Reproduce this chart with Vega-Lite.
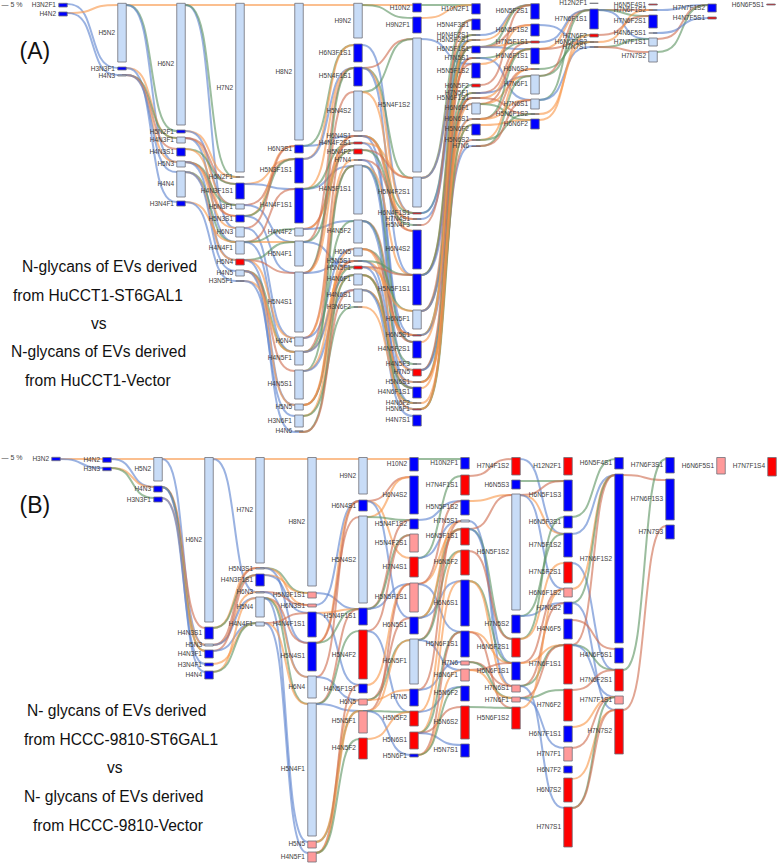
{"$schema":"https://vega.github.io/schema/vega-lite/v6.json","width":778,"height":866,"padding":0,"autosize":{"type":"fit","contains":"padding"},"background":"white","config":{"view":{"stroke":null}},
"datasets":{
"links":[
{"k":1,"c":"N","x":[63,87,98,122],"y":[4,4,68,68]},{"k":2,"c":"H","x":[63,87,98,122],"y":[13,13,5,5]},{"k":3,"c":"N","x":[63,87,98,122],"y":[13,13,75,75]},
{"k":4,"c":"H","x":[122,146,157,181],"y":[5,5,5,5]},{"k":5,"c":"F","x":[122,146,157,181],"y":[5,5,131,131]},{"k":6,"c":"N","x":[122,146,157,181],"y":[5,5,162,162]},{"k":7,"c":"H","x":[122,146,157,181],"y":[68,68,138,138]},{"k":8,"c":"N","x":[122,146,157,181],"y":[68,68,202,202]},{"k":9,"c":"F","x":[122,146,157,181],"y":[75,75,138,138]},{"k":10,"c":"S","x":[122,146,157,181],"y":[75,75,149,149]},{"k":11,"c":"H","x":[122,146,157,181],"y":[75,75,162,162]},{"k":12,"c":"N","x":[122,146,157,181],"y":[75,75,172,172]},
{"k":13,"c":"H","x":[181,205,216,240],"y":[5,5,5,5]},{"k":14,"c":"N","x":[181,205,216,240],"y":[5,5,228,228]},{"k":15,"c":"F","x":[181,205,216,240],"y":[5,5,177,177]},{"k":16,"c":"H","x":[181,205,216,240],"y":[131,131,177,177]},{"k":17,"c":"N","x":[181,205,216,240],"y":[131,131,205,205]},{"k":18,"c":"H","x":[181,205,216,240],"y":[138,138,205,205]},{"k":19,"c":"N","x":[181,205,216,240],"y":[138,138,242,242]},{"k":20,"c":"S","x":[181,205,216,240],"y":[138,138,184,184]},{"k":21,"c":"F","x":[181,205,216,240],"y":[149,149,184,184]},{"k":22,"c":"H","x":[181,205,216,240],"y":[149,149,216,216]},{"k":23,"c":"F","x":[181,205,216,240],"y":[162,162,205,205]},{"k":24,"c":"S","x":[181,205,216,240],"y":[162,162,216,216]},{"k":25,"c":"H","x":[181,205,216,240],"y":[162,162,228,228]},{"k":26,"c":"N","x":[181,205,216,240],"y":[162,162,260,260]},{"k":27,"c":"F","x":[181,205,216,240],"y":[172,172,242,242]},{"k":28,"c":"H","x":[181,205,216,240],"y":[172,172,260,260]},{"k":29,"c":"N","x":[181,205,216,240],"y":[172,172,271,271]},{"k":30,"c":"H","x":[181,205,216,240],"y":[202,202,242,242]},{"k":31,"c":"N","x":[181,205,216,240],"y":[202,202,281,281]},
{"k":32,"c":"H","x":[240,264,275,299],"y":[5,5,5,5]},{"k":33,"c":"H","x":[240,264,275,299],"y":[184,184,159,159]},{"k":34,"c":"N","x":[240,264,275,299],"y":[184,184,189,189]},{"k":35,"c":"S","x":[240,264,275,299],"y":[205,205,159,159]},{"k":36,"c":"N","x":[240,264,275,299],"y":[205,205,242,242]},{"k":37,"c":"H","x":[240,264,275,299],"y":[216,216,146,146]},{"k":38,"c":"F","x":[240,264,275,299],"y":[216,216,159,159]},{"k":39,"c":"N","x":[240,264,275,299],"y":[216,216,273,273]},{"k":40,"c":"S","x":[240,264,275,299],"y":[228,228,146,146]},{"k":41,"c":"N","x":[240,264,275,299],"y":[228,228,338,338]},{"k":42,"c":"H","x":[240,264,275,299],"y":[242,242,242,242]},{"k":43,"c":"S","x":[240,264,275,299],"y":[242,242,189,189]},{"k":44,"c":"F","x":[240,264,275,299],"y":[242,242,229,229]},{"k":45,"c":"N","x":[240,264,275,299],"y":[242,242,352,352]},{"k":46,"c":"F","x":[240,264,275,299],"y":[260,260,242,242]},{"k":47,"c":"S","x":[240,264,275,299],"y":[260,260,273,273]},{"k":48,"c":"H","x":[240,264,275,299],"y":[260,260,338,338]},{"k":49,"c":"N","x":[240,264,275,299],"y":[260,260,405,405]},{"k":50,"c":"F","x":[240,264,275,299],"y":[271,271,352,352]},{"k":51,"c":"S","x":[240,264,275,299],"y":[271,271,371,371]},{"k":52,"c":"H","x":[240,264,275,299],"y":[271,271,405,405]},{"k":53,"c":"N","x":[240,264,275,299],"y":[271,271,432,432]},{"k":54,"c":"H","x":[240,264,275,299],"y":[281,281,352,352]},{"k":55,"c":"N","x":[240,264,275,299],"y":[281,281,416,416]},
{"k":56,"c":"H","x":[299,323,334,358],"y":[5,5,5,5]},{"k":57,"c":"F","x":[299,323,334,358],"y":[146,146,45,45]},{"k":58,"c":"N","x":[299,323,334,358],"y":[146,146,136,136]},{"k":59,"c":"H","x":[299,323,334,358],"y":[159,159,45,45]},{"k":60,"c":"N","x":[299,323,334,358],"y":[159,159,68,68]},{"k":61,"c":"H","x":[299,323,334,358],"y":[189,189,68,68]},{"k":62,"c":"N","x":[299,323,334,358],"y":[189,189,166,166]},{"k":63,"c":"F","x":[299,323,334,358],"y":[189,189,143,143]},{"k":64,"c":"S","x":[299,323,334,358],"y":[229,229,143,143]},{"k":65,"c":"H","x":[299,323,334,358],"y":[229,229,150,150]},{"k":66,"c":"N","x":[299,323,334,358],"y":[229,229,221,221]},{"k":67,"c":"S","x":[299,323,334,358],"y":[242,242,68,68]},{"k":68,"c":"F","x":[299,323,334,358],"y":[242,242,150,150]},{"k":69,"c":"N","x":[299,323,334,358],"y":[242,242,267,267]},{"k":70,"c":"F","x":[299,323,334,358],"y":[273,273,68,68]},{"k":71,"c":"S","x":[299,323,334,358],"y":[273,273,92,92]},{"k":72,"c":"H","x":[299,323,334,358],"y":[273,273,136,136]},{"k":73,"c":"N","x":[299,323,334,358],"y":[273,273,261,261]},{"k":74,"c":"S","x":[299,323,334,358],"y":[338,338,136,136]},{"k":75,"c":"H","x":[299,323,334,358],"y":[338,338,160,160]},{"k":76,"c":"N","x":[299,323,334,358],"y":[338,338,249,249]},{"k":77,"c":"S","x":[299,323,334,358],"y":[352,352,166,166]},{"k":78,"c":"F","x":[299,323,334,358],"y":[352,352,221,221]},{"k":79,"c":"H","x":[299,323,334,358],"y":[352,352,267,267]},{"k":80,"c":"N","x":[299,323,334,358],"y":[352,352,275,275]},{"k":81,"c":"F","x":[299,323,334,358],"y":[371,371,166,166]},{"k":82,"c":"H","x":[299,323,334,358],"y":[371,371,261,261]},{"k":83,"c":"N","x":[299,323,334,358],"y":[371,371,290,290]},{"k":84,"c":"F","x":[299,323,334,358],"y":[405,405,267,267]},{"k":85,"c":"S","x":[299,323,334,358],"y":[405,405,261,261]},{"k":86,"c":"H","x":[299,323,334,358],"y":[405,405,249,249]},{"k":87,"c":"H","x":[299,323,334,358],"y":[416,416,275,275]},{"k":88,"c":"F","x":[299,323,334,358],"y":[416,416,307,307]},{"k":89,"c":"F","x":[299,323,334,358],"y":[432,432,275,275]},{"k":90,"c":"S","x":[299,323,334,358],"y":[432,432,290,290]},
{"k":91,"c":"H","x":[358,382,393,417],"y":[5,5,5,5]},{"k":92,"c":"F","x":[358,382,393,417],"y":[5,5,18,18]},{"k":93,"c":"N","x":[358,382,393,417],"y":[45,45,213,213]},{"k":94,"c":"S","x":[358,382,393,417],"y":[68,68,39,39]},{"k":95,"c":"F","x":[358,382,393,417],"y":[68,68,178,178]},{"k":96,"c":"H","x":[358,382,393,417],"y":[68,68,213,213]},{"k":97,"c":"N","x":[358,382,393,417],"y":[68,68,275,275]},{"k":98,"c":"F","x":[358,382,393,417],"y":[92,92,39,39]},{"k":99,"c":"H","x":[358,382,393,417],"y":[92,92,231,231]},{"k":100,"c":"F","x":[358,382,393,417],"y":[136,136,213,213]},{"k":101,"c":"S","x":[358,382,393,417],"y":[136,136,231,231]},{"k":102,"c":"H","x":[358,382,393,417],"y":[136,136,219,219]},{"k":103,"c":"N","x":[358,382,393,417],"y":[136,136,335,335]},{"k":104,"c":"H","x":[358,382,393,417],"y":[143,143,178,178]},{"k":105,"c":"N","x":[358,382,393,417],"y":[143,143,342,342]},{"k":106,"c":"S","x":[358,382,393,417],"y":[150,150,178,178]},{"k":107,"c":"F","x":[358,382,393,417],"y":[150,150,225,225]},{"k":108,"c":"S","x":[358,382,393,417],"y":[160,160,219,219]},{"k":109,"c":"N","x":[358,382,393,417],"y":[160,160,370,370]},{"k":110,"c":"H","x":[358,382,393,417],"y":[166,166,275,275]},{"k":111,"c":"F","x":[358,382,393,417],"y":[166,166,342,342]},{"k":112,"c":"N","x":[358,382,393,417],"y":[166,166,388,388]},{"k":113,"c":"S","x":[358,382,393,417],"y":[221,221,342,342]},{"k":114,"c":"F","x":[358,382,393,417],"y":[221,221,364,364]},{"k":115,"c":"N","x":[358,382,393,417],"y":[221,221,403,403]},{"k":116,"c":"F","x":[358,382,393,417],"y":[249,249,311,311]},{"k":117,"c":"S","x":[358,382,393,417],"y":[249,249,335,335]},{"k":118,"c":"H","x":[358,382,393,417],"y":[249,249,370,370]},{"k":119,"c":"H","x":[358,382,393,417],"y":[261,261,335,335]},{"k":120,"c":"F","x":[358,382,393,417],"y":[261,261,275,275]},{"k":121,"c":"N","x":[358,382,393,417],"y":[261,261,382,382]},{"k":122,"c":"S","x":[358,382,393,417],"y":[267,267,275,275]},{"k":123,"c":"H","x":[358,382,393,417],"y":[267,267,311,311]},{"k":124,"c":"N","x":[358,382,393,417],"y":[267,267,409,409]},{"k":125,"c":"S","x":[358,382,393,417],"y":[275,275,388,388]},{"k":126,"c":"H","x":[358,382,393,417],"y":[275,275,409,409]},{"k":127,"c":"F","x":[358,382,393,417],"y":[275,275,403,403]},{"k":128,"c":"F","x":[358,382,393,417],"y":[290,290,388,388]},{"k":129,"c":"H","x":[358,382,393,417],"y":[290,290,382,382]},{"k":130,"c":"N","x":[358,382,393,417],"y":[290,290,416,416]},{"k":131,"c":"H","x":[358,382,393,417],"y":[307,307,403,403]},
{"k":132,"c":"F","x":[417,441,452,476],"y":[5,5,5,5]},{"k":133,"c":"H","x":[417,441,452,476],"y":[18,18,5,5]},{"k":134,"c":"N","x":[417,441,452,476],"y":[39,39,64,64]},{"k":135,"c":"F","x":[417,441,452,476],"y":[178,178,20,20]},{"k":136,"c":"H","x":[417,441,452,476],"y":[178,178,35,35]},{"k":137,"c":"N","x":[417,441,452,476],"y":[178,178,40,40]},{"k":138,"c":"F","x":[417,441,452,476],"y":[213,213,35,35]},{"k":139,"c":"N","x":[417,441,452,476],"y":[213,213,47,47]},{"k":140,"c":"N","x":[417,441,452,476],"y":[219,219,58,58]},{"k":141,"c":"S","x":[417,441,452,476],"y":[225,225,20,20]},{"k":142,"c":"H","x":[417,441,452,476],"y":[275,275,47,47]},{"k":143,"c":"S","x":[417,441,452,476],"y":[275,275,64,64]},{"k":144,"c":"F","x":[417,441,452,476],"y":[275,275,40,40]},{"k":145,"c":"N","x":[417,441,452,476],"y":[275,275,98,98]},{"k":146,"c":"S","x":[417,441,452,476],"y":[311,311,47,47]},{"k":147,"c":"F","x":[417,441,452,476],"y":[311,311,85,85]},{"k":148,"c":"H","x":[417,441,452,476],"y":[311,311,93,93]},{"k":149,"c":"N","x":[417,441,452,476],"y":[311,311,104,104]},{"k":150,"c":"F","x":[417,441,452,476],"y":[335,335,47,47]},{"k":151,"c":"H","x":[417,441,452,476],"y":[335,335,58,58]},{"k":152,"c":"N","x":[417,441,452,476],"y":[335,335,119,119]},{"k":153,"c":"H","x":[417,441,452,476],"y":[342,342,40,40]},{"k":154,"c":"F","x":[417,441,452,476],"y":[370,370,93,93]},{"k":155,"c":"S","x":[417,441,452,476],"y":[370,370,58,58]},{"k":156,"c":"N","x":[417,441,452,476],"y":[370,370,146,146]},{"k":157,"c":"F","x":[417,441,452,476],"y":[382,382,98,98]},{"k":158,"c":"S","x":[417,441,452,476],"y":[382,382,140,140]},{"k":159,"c":"H","x":[417,441,452,476],"y":[382,382,119,119]},{"k":160,"c":"H","x":[417,441,452,476],"y":[388,388,98,98]},{"k":161,"c":"H","x":[417,441,452,476],"y":[403,403,125,125]},{"k":162,"c":"S","x":[417,441,452,476],"y":[409,409,98,98]},{"k":163,"c":"F","x":[417,441,452,476],"y":[409,409,125,125]},{"k":164,"c":"H","x":[417,441,452,476],"y":[409,409,104,104]},
{"k":165,"c":"N","x":[476,500,511,535],"y":[35,35,5,5]},{"k":166,"c":"H","x":[476,500,511,535],"y":[40,40,5,5]},{"k":167,"c":"F","x":[476,500,511,535],"y":[47,47,5,5]},{"k":168,"c":"S","x":[476,500,511,535],"y":[47,47,25,25]},{"k":169,"c":"H","x":[476,500,511,535],"y":[47,47,42,42]},{"k":170,"c":"N","x":[476,500,511,535],"y":[47,47,49,49]},{"k":171,"c":"F","x":[476,500,511,535],"y":[58,58,42,42]},{"k":172,"c":"N","x":[476,500,511,535],"y":[58,58,100,100]},{"k":173,"c":"H","x":[476,500,511,535],"y":[64,64,25,25]},{"k":174,"c":"S","x":[476,500,511,535],"y":[85,85,5,5]},{"k":175,"c":"S","x":[476,500,511,535],"y":[93,93,42,42]},{"k":176,"c":"N","x":[476,500,511,535],"y":[93,93,76,76]},{"k":177,"c":"H","x":[476,500,511,535],"y":[98,98,49,49]},{"k":178,"c":"S","x":[476,500,511,535],"y":[98,98,114,114]},{"k":179,"c":"S","x":[476,500,511,535],"y":[104,104,49,49]},{"k":180,"c":"H","x":[476,500,511,535],"y":[104,104,76,76]},{"k":181,"c":"F","x":[476,500,511,535],"y":[104,104,120,120]},{"k":182,"c":"F","x":[476,500,511,535],"y":[119,119,49,49]},{"k":183,"c":"S","x":[476,500,511,535],"y":[119,119,69,69]},{"k":184,"c":"H","x":[476,500,511,535],"y":[119,119,100,100]},{"k":185,"c":"H","x":[476,500,511,535],"y":[125,125,120,120]},{"k":186,"c":"H","x":[476,500,511,535],"y":[140,140,69,69]},{"k":187,"c":"F","x":[476,500,511,535],"y":[140,140,114,114]},{"k":188,"c":"F","x":[476,500,511,535],"y":[146,146,76,76]},{"k":189,"c":"S","x":[476,500,511,535],"y":[146,146,100,100]},
{"k":190,"c":"H","x":[535,559,570,594],"y":[49,49,10,10]},{"k":191,"c":"S","x":[535,559,570,594],"y":[49,49,42,42]},{"k":192,"c":"N","x":[535,559,570,594],"y":[42,42,10,10]},{"k":193,"c":"N","x":[535,559,570,594],"y":[25,25,42,42]},{"k":194,"c":"F","x":[535,559,570,594],"y":[69,69,42,42]},{"k":195,"c":"S","x":[535,559,570,594],"y":[76,76,10,10]},{"k":196,"c":"F","x":[535,559,570,594],"y":[76,76,35,35]},{"k":197,"c":"F","x":[535,559,570,594],"y":[100,100,10,10]},{"k":198,"c":"N","x":[535,559,570,594],"y":[100,100,47,47]},{"k":199,"c":"H","x":[535,559,570,594],"y":[120,120,35,35]},{"k":200,"c":"H","x":[535,559,570,594],"y":[114,114,42,42]},
{"k":201,"c":"S","x":[594,618,629,653],"y":[10,10,10,10]},{"k":202,"c":"F","x":[594,618,629,653],"y":[10,10,16,16]},{"k":203,"c":"N","x":[594,618,629,653],"y":[10,10,39,39]},{"k":204,"c":"S","x":[594,618,629,653],"y":[35,35,16,16]},{"k":205,"c":"H","x":[594,618,629,653],"y":[42,42,10,10]},{"k":206,"c":"F","x":[594,618,629,653],"y":[47,47,39,39]},{"k":207,"c":"S","x":[594,618,629,653],"y":[47,47,52,52]},
{"k":208,"c":"N","x":[653,677,688,712],"y":[10,10,5,5]},{"k":209,"c":"S","x":[653,677,688,712],"y":[39,39,5,5]},{"k":210,"c":"F","x":[653,677,688,712],"y":[52,52,5,5]},{"k":211,"c":"N","x":[653,677,688,712],"y":[33,33,18,18]},

{"k":301,"c":"H","x":[56,76,87,107],"y":[459,459,459,459]},{"k":302,"c":"N","x":[56,76,87,107],"y":[459,459,468,468]},
{"k":303,"c":"H","x":[107,127,138,158],"y":[459,459,459,459]},{"k":304,"c":"N","x":[107,127,138,158],"y":[459,459,487,487]},{"k":305,"c":"H","x":[107,127,138,158],"y":[468,468,487,487]},{"k":306,"c":"F","x":[107,127,138,158],"y":[468,468,498,498]},
{"k":307,"c":"H","x":[158,178,189,209],"y":[459,459,459,459]},{"k":308,"c":"N","x":[158,178,189,209],"y":[459,459,645,645]},{"k":309,"c":"S","x":[158,178,189,209],"y":[487,487,628,628]},{"k":310,"c":"H","x":[158,178,189,209],"y":[487,487,645,645]},{"k":311,"c":"F","x":[158,178,189,209],"y":[487,487,651,651]},{"k":312,"c":"N","x":[158,178,189,209],"y":[487,487,672,672]},{"k":313,"c":"H","x":[158,178,189,209],"y":[498,498,651,651]},{"k":314,"c":"N","x":[158,178,189,209],"y":[498,498,664,664]},
{"k":315,"c":"H","x":[209,229,240,260],"y":[459,459,459,459]},{"k":316,"c":"N","x":[209,229,240,260],"y":[459,459,592,592]},{"k":317,"c":"H","x":[209,229,240,260],"y":[628,628,568,568]},{"k":318,"c":"F","x":[209,229,240,260],"y":[628,628,575,575]},{"k":319,"c":"S","x":[209,229,240,260],"y":[645,645,568,568]},{"k":320,"c":"H","x":[209,229,240,260],"y":[645,645,592,592]},{"k":321,"c":"N","x":[209,229,240,260],"y":[645,645,598,598]},{"k":322,"c":"S","x":[209,229,240,260],"y":[651,651,575,575]},{"k":323,"c":"N","x":[209,229,240,260],"y":[651,651,623,623]},{"k":324,"c":"H","x":[209,229,240,260],"y":[664,664,623,623]},{"k":325,"c":"H","x":[209,229,240,260],"y":[672,672,598,598]},{"k":326,"c":"F","x":[209,229,240,260],"y":[672,672,623,623]},
{"k":327,"c":"H","x":[260,281,291,312],"y":[459,459,459,459]},{"k":328,"c":"F","x":[260,281,291,312],"y":[568,568,593,593]},{"k":329,"c":"H","x":[260,281,291,312],"y":[568,568,605,605]},{"k":330,"c":"N","x":[260,281,291,312],"y":[568,568,643,643]},{"k":331,"c":"H","x":[260,281,291,312],"y":[575,575,593,593]},{"k":332,"c":"N","x":[260,281,291,312],"y":[575,575,613,613]},{"k":333,"c":"S","x":[260,281,291,312],"y":[592,592,605,605]},{"k":334,"c":"N","x":[260,281,291,312],"y":[592,592,677,677]},{"k":335,"c":"S","x":[260,281,291,312],"y":[598,598,643,643]},{"k":336,"c":"H","x":[260,281,291,312],"y":[598,598,677,677]},{"k":337,"c":"F","x":[260,281,291,312],"y":[598,598,704,704]},{"k":338,"c":"N","x":[260,281,291,312],"y":[598,598,842,842]},{"k":339,"c":"S","x":[260,281,291,312],"y":[623,623,613,613]},{"k":340,"c":"H","x":[260,281,291,312],"y":[623,623,704,704]},{"k":341,"c":"N","x":[260,281,291,312],"y":[623,623,853,853]},
{"k":342,"c":"H","x":[312,332,343,363],"y":[459,459,459,459]},{"k":343,"c":"N","x":[312,332,343,363],"y":[593,593,609,609]},{"k":344,"c":"N","x":[312,332,343,363],"y":[605,605,501,501]},{"k":345,"c":"H","x":[312,332,343,363],"y":[613,613,609,609]},{"k":346,"c":"N","x":[312,332,343,363],"y":[613,613,685,685]},{"k":347,"c":"H","x":[312,332,343,363],"y":[643,643,501,501]},{"k":348,"c":"S","x":[312,332,343,363],"y":[643,643,517,517]},{"k":349,"c":"F","x":[312,332,343,363],"y":[643,643,609,609]},{"k":350,"c":"S","x":[312,332,343,363],"y":[677,677,501,501]},{"k":351,"c":"N","x":[312,332,343,363],"y":[677,677,700,700]},{"k":352,"c":"S","x":[312,332,343,363],"y":[704,704,609,609]},{"k":353,"c":"F","x":[312,332,343,363],"y":[704,704,631,631]},{"k":354,"c":"N","x":[312,332,343,363],"y":[704,704,711,711]},{"k":355,"c":"F","x":[312,332,343,363],"y":[842,842,711,711]},{"k":356,"c":"H","x":[312,332,343,363],"y":[842,842,700,700]},{"k":357,"c":"S","x":[312,332,343,363],"y":[853,853,685,685]},{"k":358,"c":"H","x":[312,332,343,363],"y":[853,853,711,711]},{"k":359,"c":"F","x":[312,332,343,363],"y":[853,853,739,739]},
{"k":360,"c":"H","x":[363,383,394,414],"y":[459,459,459,459]},{"k":361,"c":"S","x":[363,383,394,414],"y":[501,501,477,477]},{"k":362,"c":"H","x":[363,383,394,414],"y":[501,501,558,558]},{"k":363,"c":"N","x":[363,383,394,414],"y":[501,501,618,618]},{"k":364,"c":"H","x":[363,383,394,414],"y":[517,517,477,477]},{"k":365,"c":"F","x":[363,383,394,414],"y":[517,517,520,520]},{"k":366,"c":"S","x":[363,383,394,414],"y":[609,609,520,520]},{"k":367,"c":"F","x":[363,383,394,414],"y":[609,609,535,535]},{"k":368,"c":"N","x":[363,383,394,414],"y":[609,609,584,584]},{"k":369,"c":"S","x":[363,383,394,414],"y":[631,631,535,535]},{"k":370,"c":"N","x":[363,383,394,414],"y":[631,631,712,712]},{"k":371,"c":"H","x":[363,383,394,414],"y":[685,685,584,584]},{"k":372,"c":"S","x":[363,383,394,414],"y":[700,700,618,618]},{"k":373,"c":"F","x":[363,383,394,414],"y":[700,700,640,640]},{"k":374,"c":"H","x":[363,383,394,414],"y":[700,700,690,690]},{"k":375,"c":"S","x":[363,383,394,414],"y":[711,711,584,584]},{"k":376,"c":"H","x":[363,383,394,414],"y":[711,711,640,640]},{"k":377,"c":"F","x":[363,383,394,414],"y":[711,711,712,712]},{"k":378,"c":"N","x":[363,383,394,414],"y":[711,711,755,755]},{"k":379,"c":"H","x":[363,383,394,414],"y":[739,739,712,712]},
{"k":380,"c":"F","x":[414,434,445,465],"y":[459,459,459,459]},{"k":381,"c":"N","x":[414,434,445,465],"y":[520,520,501,501]},{"k":382,"c":"F","x":[414,434,445,465],"y":[558,558,476,476]},{"k":383,"c":"N","x":[414,434,445,465],"y":[558,558,521,521]},{"k":384,"c":"H","x":[414,434,445,465],"y":[584,584,529,529]},{"k":385,"c":"S","x":[414,434,445,465],"y":[584,584,501,501]},{"k":386,"c":"N","x":[414,434,445,465],"y":[584,584,632,632]},{"k":387,"c":"F","x":[414,434,445,465],"y":[618,618,529,529]},{"k":388,"c":"H","x":[414,434,445,465],"y":[618,618,521,521]},{"k":389,"c":"N","x":[414,434,445,465],"y":[618,618,581,581]},{"k":390,"c":"S","x":[414,434,445,465],"y":[640,640,529,529]},{"k":391,"c":"F","x":[414,434,445,465],"y":[640,640,551,551]},{"k":392,"c":"N","x":[414,434,445,465],"y":[640,640,670,670]},{"k":393,"c":"S","x":[414,434,445,465],"y":[690,690,521,521]},{"k":394,"c":"N","x":[414,434,445,465],"y":[690,690,662,662]},{"k":395,"c":"H","x":[414,434,445,465],"y":[712,712,551,551]},{"k":396,"c":"N","x":[414,434,445,465],"y":[712,712,687,687]},{"k":397,"c":"H","x":[414,434,445,465],"y":[733,733,581,581]},{"k":398,"c":"F","x":[414,434,445,465],"y":[733,733,632,632]},{"k":399,"c":"S","x":[414,434,445,465],"y":[733,733,707,707]},{"k":400,"c":"N","x":[414,434,445,465],"y":[733,733,745,745]},{"k":401,"c":"S","x":[414,434,445,465],"y":[755,755,632,632]},{"k":402,"c":"H","x":[414,434,445,465],"y":[755,755,670,670]},{"k":403,"c":"F","x":[414,434,445,465],"y":[755,755,687,687]},
{"k":404,"c":"S","x":[465,485,496,516],"y":[476,476,459,459]},{"k":405,"c":"H","x":[465,485,496,516],"y":[501,501,495,495]},{"k":406,"c":"N","x":[465,485,496,516],"y":[521,521,686,686]},{"k":407,"c":"S","x":[465,485,496,516],"y":[529,529,495,495]},{"k":408,"c":"F","x":[465,485,496,516],"y":[529,529,639,639]},{"k":409,"c":"N","x":[465,485,496,516],"y":[529,529,663,663]},{"k":410,"c":"S","x":[465,485,496,516],"y":[551,551,639,639]},{"k":411,"c":"F","x":[465,485,496,516],"y":[581,581,663,663]},{"k":412,"c":"H","x":[465,485,496,516],"y":[581,581,686,686]},{"k":413,"c":"H","x":[465,485,496,516],"y":[632,632,663,663]},{"k":414,"c":"S","x":[465,485,496,516],"y":[632,632,708,708]},{"k":415,"c":"S","x":[465,485,496,516],"y":[662,662,686,686]},{"k":416,"c":"F","x":[465,485,496,516],"y":[662,662,698,698]},{"k":417,"c":"S","x":[465,485,496,516],"y":[670,670,663,663]},{"k":418,"c":"H","x":[465,485,496,516],"y":[670,670,698,698]},{"k":419,"c":"F","x":[465,485,496,516],"y":[707,707,708,708]},
{"k":420,"c":"N","x":[516,537,547,568],"y":[459,459,534,534]},{"k":421,"c":"F","x":[516,537,547,568],"y":[481,481,481,481]},{"k":422,"c":"S","x":[516,537,547,568],"y":[495,495,481,481]},{"k":423,"c":"H","x":[516,537,547,568],"y":[495,495,534,534]},{"k":424,"c":"N","x":[516,537,547,568],"y":[495,495,589,589]},{"k":425,"c":"F","x":[516,537,547,568],"y":[616,616,534,534]},{"k":426,"c":"N","x":[516,537,547,568],"y":[616,616,603,603]},{"k":427,"c":"F","x":[516,537,547,568],"y":[639,639,517,517]},{"k":428,"c":"H","x":[516,537,547,568],"y":[639,639,563,563]},{"k":429,"c":"S","x":[516,537,547,568],"y":[663,663,589,589]},{"k":430,"c":"H","x":[516,537,547,568],"y":[663,663,645,645]},{"k":431,"c":"S","x":[516,537,547,568],"y":[686,686,603,603]},{"k":432,"c":"F","x":[516,537,547,568],"y":[686,686,645,645]},{"k":433,"c":"N","x":[516,537,547,568],"y":[686,686,808,808]},{"k":434,"c":"S","x":[516,537,547,568],"y":[698,698,645,645]},{"k":435,"c":"F","x":[516,537,547,568],"y":[698,698,690,690]},{"k":436,"c":"N","x":[516,537,547,568],"y":[698,698,748,748]},{"k":437,"c":"H","x":[516,537,547,568],"y":[708,708,589,589]},
{"k":438,"c":"F","x":[568,588,599,619],"y":[517,517,459,459]},{"k":439,"c":"N","x":[568,588,599,619],"y":[534,534,475,475]},{"k":440,"c":"N","x":[568,588,599,619],"y":[563,563,670,670]},{"k":441,"c":"H","x":[568,588,599,619],"y":[589,589,475,475]},{"k":442,"c":"F","x":[568,588,599,619],"y":[603,603,475,475]},{"k":443,"c":"N","x":[568,588,599,619],"y":[603,603,710,710]},{"k":444,"c":"S","x":[568,588,599,619],"y":[620,620,649,649]},{"k":445,"c":"S","x":[568,588,599,619],"y":[645,645,475,475]},{"k":446,"c":"F","x":[568,588,599,619],"y":[645,645,670,670]},{"k":447,"c":"N","x":[568,588,599,619],"y":[645,645,697,697]},{"k":448,"c":"S","x":[568,588,599,619],"y":[690,690,670,670]},{"k":449,"c":"H","x":[568,588,599,619],"y":[727,727,697,697]},{"k":450,"c":"S","x":[568,588,599,619],"y":[748,748,697,697]},{"k":451,"c":"H","x":[568,588,599,619],"y":[779,779,710,710]},{"k":452,"c":"F","x":[568,588,599,619],"y":[808,808,697,697]},{"k":453,"c":"S","x":[568,588,599,619],"y":[808,808,710,710]},
{"k":454,"c":"S","x":[619,639,650,670],"y":[475,475,480,480]},{"k":455,"c":"F","x":[619,639,650,670],"y":[670,670,459,459]},{"k":456,"c":"S","x":[619,639,650,670],"y":[710,710,526,526]}
],
"nodes":[
{"n":"H3N2F1","x":63,"a":3.3,"b":7,"m":5,"t":"up"},{"n":"H4N2","x":63,"a":12,"b":16,"m":14,"t":"up"},
{"n":"H5N2","x":122,"a":3.3,"b":62,"m":33,"t":"ns"},{"n":"H3N3F1","x":122,"a":67,"b":70,"m":68.5,"t":"up"},{"n":"H4N3","x":122,"a":75,"b":76,"m":75.5,"t":"ns"},
{"n":"H6N2","x":181,"a":3.3,"b":125,"m":64,"t":"ns"},{"n":"H5N2F1","x":181,"a":130,"b":133,"m":131.5,"t":"up"},{"n":"H4N3F1","x":181,"a":137,"b":143,"m":140,"t":"ns"},{"n":"H4N3S1","x":181,"a":148,"b":156,"m":152,"t":"up"},{"n":"H5N3","x":181,"a":161,"b":167,"m":164,"t":"ns"},{"n":"H4N4","x":181,"a":171,"b":197,"m":184,"t":"ns"},{"n":"H3N4F1","x":181,"a":201,"b":206,"m":203.5,"t":"up"},
{"n":"H7N2","x":240,"a":3.3,"b":172,"m":88,"t":"ns"},{"n":"H6N2F1","x":240,"a":177,"b":177,"m":177,"t":"z"},{"n":"H4N3F1S1","x":240,"a":183,"b":199,"m":191,"t":"up"},{"n":"H5N3F1","x":240,"a":204,"b":209,"m":206.5,"t":"ns"},{"n":"H5N3S1","x":240,"a":215,"b":222,"m":218.5,"t":"up"},{"n":"H6N3","x":240,"a":227,"b":237,"m":232,"t":"ns"},{"n":"H4N4F1","x":240,"a":241,"b":254,"m":247.5,"t":"ns"},{"n":"H5N4","x":240,"a":259,"b":265,"m":262,"t":"dn"},{"n":"H4N5","x":240,"a":270,"b":276,"m":273,"t":"ns"},{"n":"H3N5F1","x":240,"a":281,"b":281,"m":281,"t":"z"},
{"n":"H8N2","x":299,"a":3.3,"b":140,"m":72,"t":"ns"},{"n":"H6N3S1","x":299,"a":145,"b":153,"m":149,"t":"up"},{"n":"H5N3F1S1","x":299,"a":158,"b":183,"m":170,"t":"up"},{"n":"H4N4F1S1","x":299,"a":188,"b":223,"m":205,"t":"up"},{"n":"H4N4F2","x":299,"a":228,"b":236,"m":232,"t":"ns"},{"n":"H5N4F1","x":299,"a":241,"b":266,"m":254,"t":"ns"},{"n":"H5N4S1","x":299,"a":272,"b":332,"m":302,"t":"ns"},{"n":"H6N4","x":299,"a":337,"b":346,"m":341,"t":"ns"},{"n":"H4N5F1","x":299,"a":351,"b":365,"m":358,"t":"ns"},{"n":"H4N5S1","x":299,"a":370,"b":399,"m":384,"t":"ns"},{"n":"H5N5","x":299,"a":404,"b":410,"m":407,"t":"ns"},{"n":"H3N6F1","x":299,"a":415,"b":427,"m":421,"t":"ns"},{"n":"H4N6","x":299,"a":431,"b":431,"m":431,"t":"z"},
{"n":"H9N2","x":358,"a":3.3,"b":38,"m":21,"t":"ns"},{"n":"H6N3F1S1","x":358,"a":44,"b":62,"m":53,"t":"up"},{"n":"H5N4F1S1","x":358,"a":67,"b":86,"m":76,"t":"up"},{"n":"H5N4S2","x":358,"a":91,"b":131,"m":111,"t":"ns"},{"n":"H6N4S1","x":358,"a":136,"b":136,"m":136,"t":"z"},{"n":"H4N4F2S1","x":358,"a":142,"b":144,"m":143,"t":"dn"},{"n":"H5N4F2","x":358,"a":149,"b":154,"m":151.5,"t":"dn"},{"n":"H7N4","x":358,"a":160,"b":160,"m":160,"t":"z"},{"n":"H4N5F1S1","x":358,"a":165,"b":214,"m":189,"t":"ns"},{"n":"H4N5F2","x":358,"a":220,"b":243,"m":231,"t":"ns"},{"n":"H6N5","x":358,"a":248,"b":256,"m":252,"t":"ns"},{"n":"H5N5S1","x":358,"a":261,"b":261,"m":261,"t":"z"},{"n":"H5N5F1","x":358,"a":266,"b":269,"m":267.5,"t":"dn"},{"n":"H4N6F1","x":358,"a":274,"b":285,"m":279,"t":"ns"},{"n":"H4N6S1","x":358,"a":289,"b":302,"m":295,"t":"ns"},{"n":"H3N6F2","x":358,"a":307,"b":307,"m":307,"t":"z"},
{"n":"H10N2","x":417,"a":3.3,"b":12,"m":8,"t":"up"},{"n":"H9N2F1","x":417,"a":17,"b":33,"m":25,"t":"up"},{"n":"H5N4F1S2","x":417,"a":38,"b":172,"m":105,"t":"ns"},{"n":"H5N4F2S1","x":417,"a":177,"b":207,"m":192,"t":"ns"},{"n":"H6N4F1S1","x":417,"a":212.7,"b":214,"m":213,"t":"dn"},{"n":"H7N4S1","x":417,"a":219,"b":219,"m":219,"t":"z"},{"n":"H5N4F3","x":417,"a":225,"b":225,"m":225,"t":"z"},{"n":"H6N4S2","x":417,"a":230,"b":269,"m":249,"t":"up"},{"n":"H5N5F1S1","x":417,"a":274,"b":305,"m":289,"t":"up"},{"n":"H6N5F1","x":417,"a":310,"b":329,"m":319,"t":"ns"},{"n":"H6N5S1","x":417,"a":335,"b":336,"m":335,"t":"dn"},{"n":"H4N5F2S1","x":417,"a":341,"b":358,"m":349,"t":"up"},{"n":"H4N5F3","x":417,"a":364,"b":364,"m":364,"t":"z"},{"n":"H7N5","x":417,"a":369,"b":376,"m":372,"t":"dn"},{"n":"H5N6S1","x":417,"a":382,"b":382,"m":382,"t":"z"},{"n":"H4N6F1S1","x":417,"a":387,"b":398,"m":392,"t":"up"},{"n":"H4N6F2","x":417,"a":403,"b":403,"m":403,"t":"z"},{"n":"H5N6F1","x":417,"a":409,"b":410,"m":409,"t":"dn"},{"n":"H4N7S1","x":417,"a":415,"b":426,"m":420,"t":"up"},
{"n":"H10N2F1","x":476,"a":3.7,"b":14,"m":9,"t":"up"},{"n":"H5N4F3S1","x":476,"a":19,"b":30,"m":24.5,"t":"up"},{"n":"H6N4F2S1","x":476,"a":35,"b":35,"m":35,"t":"z"},{"n":"H5N5F2S1","x":476,"a":40,"b":40,"m":40,"t":"z"},{"n":"H6N5F1S1","x":476,"a":46,"b":53,"m":49,"t":"up"},{"n":"H7N5S1","x":476,"a":58,"b":58,"m":58,"t":"z"},{"n":"H5N5F1S2","x":476,"a":63,"b":78,"m":71,"t":"up"},{"n":"H6N5F2","x":476,"a":84,"b":87,"m":85.5,"t":"dn"},{"n":"H7N5F1","x":476,"a":93,"b":93,"m":93,"t":"z"},{"n":"H5N6F1S1","x":476,"a":98,"b":98,"m":98,"t":"z"},{"n":"H6N6F1","x":476,"a":103,"b":114,"m":108,"t":"ns"},{"n":"H6N6S1","x":476,"a":119,"b":119,"m":119,"t":"z"},{"n":"H5N6F2","x":476,"a":124,"b":135,"m":129,"t":"up"},{"n":"H5N6S2","x":476,"a":140,"b":140,"m":140,"t":"z"},{"n":"H7N6","x":476,"a":146,"b":146.5,"m":146,"t":"dn"},
{"n":"H6N5F2S1","x":535,"a":3.7,"b":19,"m":11,"t":"up"},{"n":"H6N5F1S2","x":535,"a":24,"b":36,"m":30,"t":"up"},{"n":"H7N5F1S1","x":535,"a":41,"b":43,"m":42,"t":"dn"},{"n":"H6N6F1S1","x":535,"a":48,"b":64,"m":56,"t":"up"},{"n":"H6N6S2","x":535,"a":69,"b":69,"m":69,"t":"z"},{"n":"H7N6F1","x":535,"a":75,"b":94,"m":84,"t":"ns"},{"n":"H7N6S1","x":535,"a":99,"b":109,"m":104,"t":"ns"},{"n":"H5N6F1S2","x":535,"a":114,"b":114,"m":114,"t":"z"},{"n":"H6N6F2","x":535,"a":119,"b":129,"m":124,"t":"up"},
{"n":"H12N2F1","x":594,"a":3.3,"b":3.3,"m":3.3,"t":"z"},{"n":"H7N6F1S1","x":594,"a":9,"b":29,"m":19,"t":"up"},{"n":"H7N6F2","x":594,"a":34,"b":37,"m":35.5,"t":"dn"},{"n":"H6N6F1S2","x":594,"a":42,"b":42,"m":42,"t":"z"},{"n":"H7N7S1","x":594,"a":47,"b":47,"m":47,"t":"z"},
{"n":"H6N5F4S1","x":653,"a":4,"b":5,"m":4.5,"t":"dn"},{"n":"H7N6F1S2","x":653,"a":10,"b":10,"m":10,"t":"z"},{"n":"H7N6F2S1","x":653,"a":15,"b":28,"m":21,"t":"up"},{"n":"H4N6F5S1","x":653,"a":33,"b":33,"m":33,"t":"z"},{"n":"H7N7F1S1","x":653,"a":38,"b":46,"m":42,"t":"ns"},{"n":"H7N7S2","x":653,"a":51,"b":62,"m":56,"t":"ns"},
{"n":"H7N7F1S2","x":712,"a":4,"b":12,"m":8,"t":"up"},{"n":"H4N7F5S1","x":712,"a":17,"b":19,"m":18,"t":"dn"},
{"n":"H6N6F5S1","x":771,"a":4,"b":5,"m":4.5,"t":"dn"},

{"n":"H3N2","x":56,"a":457.3,"b":460.7,"m":459,"t":"up"},
{"n":"H4N2","x":107,"a":457.5,"b":462.3,"m":460,"t":"up"},{"n":"H3N3","x":107,"a":467.3,"b":470.7,"m":469,"t":"up"},
{"n":"H5N2","x":158,"a":457.5,"b":481,"m":469,"t":"ns"},{"n":"H4N3","x":158,"a":486,"b":492,"m":489,"t":"up"},{"n":"H3N3F1","x":158,"a":497,"b":502,"m":499.5,"t":"up"},
{"n":"H6N2","x":209,"a":457.5,"b":622,"m":540,"t":"ns"},{"n":"H4N3S1","x":209,"a":627,"b":639,"m":633,"t":"up"},{"n":"H5N3","x":209,"a":644,"b":646,"m":645,"t":"ns"},{"n":"H4N3F1","x":209,"a":650,"b":658,"m":654,"t":"up"},{"n":"H3N4F1","x":209,"a":663,"b":666,"m":664.5,"t":"up"},{"n":"H4N4","x":209,"a":671,"b":679,"m":675,"t":"up"},
{"n":"H7N2","x":260,"a":457.5,"b":563,"m":510,"t":"ns"},{"n":"H5N3S1","x":260,"a":568,"b":569,"m":568.5,"t":"ns"},{"n":"H4N3F1S1","x":260,"a":574,"b":586,"m":580,"t":"up"},{"n":"H6N3","x":260,"a":592,"b":593,"m":592,"t":"ns"},{"n":"H5N4","x":260,"a":597,"b":617,"m":607,"t":"ns"},{"n":"H4N4F1","x":260,"a":622,"b":626,"m":624,"t":"ns"},
{"n":"H8N2","x":312,"a":457.5,"b":586,"m":522,"t":"ns"},{"n":"H5N3F1S1","x":312,"a":592,"b":598,"m":595,"t":"dp"},{"n":"H6N3S1","x":312,"a":604,"b":607,"m":605.5,"t":"dp"},{"n":"H4N4F1S1","x":312,"a":612,"b":637,"m":624,"t":"up"},{"n":"H5N4S1","x":312,"a":642,"b":671,"m":656,"t":"up"},{"n":"H6N4","x":312,"a":676,"b":698,"m":687,"t":"ns"},{"n":"H5N4F1","x":312,"a":703,"b":836,"m":769,"t":"ns"},{"n":"H5N5","x":312,"a":841,"b":848,"m":844,"t":"dp"},{"n":"H4N5F1","x":312,"a":852,"b":862,"m":857,"t":"dp"},
{"n":"H9N2","x":363,"a":457.5,"b":494,"m":476,"t":"ns"},{"n":"H6N4S1","x":363,"a":500,"b":511,"m":505.5,"t":"up"},{"n":"H5N4S2","x":363,"a":516,"b":603,"m":560,"t":"ns"},{"n":"H5N4F1S1","x":363,"a":608,"b":625,"m":616,"t":"up"},{"n":"H5N4F2","x":363,"a":630,"b":679,"m":655,"t":"dn"},{"n":"H4N5F1S1","x":363,"a":684,"b":693,"m":688.5,"t":"up"},{"n":"H6N5","x":363,"a":699,"b":705,"m":702,"t":"dp"},{"n":"H5N5F1","x":363,"a":711,"b":733,"m":721,"t":"dp"},{"n":"H4N5F2","x":363,"a":738,"b":759,"m":748,"t":"dn"},
{"n":"H10N2","x":414,"a":457.5,"b":471,"m":464,"t":"up"},{"n":"H6N4S2","x":414,"a":476,"b":514,"m":495,"t":"up"},{"n":"H5N4F1S2","x":414,"a":519,"b":529,"m":524,"t":"up"},{"n":"H5N4F2S1","x":414,"a":534,"b":552,"m":543,"t":"dp"},{"n":"H7N4S1","x":414,"a":557,"b":577,"m":567,"t":"dn"},{"n":"H5N5F1S1","x":414,"a":583,"b":612,"m":597,"t":"dp"},{"n":"H6N5S1","x":414,"a":617,"b":634,"m":625,"t":"up"},{"n":"H6N5F1","x":414,"a":639,"b":684,"m":661,"t":"ns"},{"n":"H7N5","x":414,"a":689,"b":706,"m":697,"t":"up"},{"n":"H5N5F2","x":414,"a":711,"b":726,"m":718,"t":"dn"},{"n":"H5N6S1","x":414,"a":732,"b":749,"m":740,"t":"dn"},{"n":"H5N6F1","x":414,"a":754,"b":757,"m":755.5,"t":"up"},
{"n":"H10N2F1","x":465,"a":457.5,"b":469,"m":463,"t":"up"},{"n":"H7N4F1S1","x":465,"a":475,"b":495,"m":485,"t":"dn"},{"n":"H5N5F1S2","x":465,"a":500,"b":515,"m":507,"t":"up"},{"n":"H7N5S1","x":465,"a":520,"b":522,"m":521,"t":"ns"},{"n":"H6N5F1S1","x":465,"a":528,"b":545,"m":536,"t":"dn"},{"n":"H6N5F2","x":465,"a":550,"b":575,"m":562,"t":"dn"},{"n":"H6N6S1","x":465,"a":580,"b":626,"m":603,"t":"up"},{"n":"H5N6F1S1","x":465,"a":631,"b":657,"m":644,"t":"up"},{"n":"H7N6","x":465,"a":661,"b":665,"m":663,"t":"dp"},{"n":"H6N6F1","x":465,"a":669,"b":681,"m":675,"t":"dp"},{"n":"H5N6F2","x":465,"a":686,"b":701,"m":693,"t":"up"},{"n":"H5N6S2","x":465,"a":706,"b":739,"m":722,"t":"dn"},{"n":"H5N7S1","x":465,"a":744,"b":757,"m":750,"t":"up"},
{"n":"H7N4F1S2","x":516,"a":457.5,"b":475,"m":466,"t":"dn"},{"n":"H6N5S3","x":516,"a":480,"b":489,"m":484.5,"t":"up"},{"n":"H6N5F1S2","x":516,"a":494,"b":610,"m":552,"t":"ns"},{"n":"H7N5S2","x":516,"a":615,"b":633,"m":624,"t":"up"},{"n":"H6N5F2S1","x":516,"a":638,"b":657,"m":647,"t":"dn"},{"n":"H6N6F1S1","x":516,"a":662,"b":680,"m":671,"t":"up"},{"n":"H7N6S1","x":516,"a":685,"b":692,"m":688,"t":"dp"},{"n":"H7N6F1","x":516,"a":697,"b":702,"m":699.5,"t":"dp"},{"n":"H5N6F1S2","x":516,"a":707,"b":729,"m":718,"t":"dn"},
{"n":"H12N2F1","x":568,"a":457.5,"b":475,"m":466,"t":"dn"},{"n":"H6N5F1S3","x":568,"a":480,"b":511,"m":495,"t":"up"},{"n":"H6N5F3S1","x":568,"a":516,"b":528,"m":522,"t":"up"},{"n":"H7N5F1S2","x":568,"a":533,"b":557,"m":545,"t":"up"},{"n":"H7N5F2S1","x":568,"a":562,"b":583,"m":572,"t":"dn"},{"n":"H6N6F1S2","x":568,"a":588,"b":597,"m":592.5,"t":"dp"},{"n":"H7N6S2","x":568,"a":602,"b":614,"m":608,"t":"up"},{"n":"H4N6F5","x":568,"a":619,"b":639,"m":629,"t":"up"},{"n":"H7N6F1S1","x":568,"a":644,"b":684,"m":664,"t":"dn"},{"n":"H7N6F2","x":568,"a":689,"b":721,"m":705,"t":"dn"},{"n":"H6N7F1S1","x":568,"a":726,"b":742,"m":734,"t":"up"},{"n":"H7N7F1","x":568,"a":747,"b":761,"m":754,"t":"dp"},{"n":"H6N7F2","x":568,"a":766,"b":773,"m":769.5,"t":"up"},{"n":"H6N7S2","x":568,"a":778,"b":802,"m":790,"t":"dn"},{"n":"H7N7S1","x":568,"a":807,"b":847,"m":827,"t":"dn"},
{"n":"H6N5F4S1","x":619,"a":457.5,"b":469,"m":463,"t":"up"},{"n":"H7N6F1S2","x":619,"a":474,"b":643,"m":559,"t":"up"},{"n":"H4N6F5S1","x":619,"a":648,"b":663,"m":655,"t":"up"},{"n":"H7N6F2S1","x":619,"a":669,"b":691,"m":680,"t":"dn"},{"n":"H7N7F1S1","x":619,"a":696,"b":704,"m":700,"t":"dp"},{"n":"H7N7S2","x":619,"a":709,"b":754,"m":731,"t":"dn"},
{"n":"H7N6F3S1","x":670,"a":457.5,"b":473,"m":465,"t":"up"},{"n":"H7N6F1S3","x":670,"a":479,"b":520,"m":499,"t":"up"},{"n":"H7N7S3","x":670,"a":525,"b":539,"m":532,"t":"up"},
{"n":"H6N6F5S1","x":721,"a":457.5,"b":474,"m":466,"t":"dp"},
{"n":"H7N7F1S4","x":772,"a":457.5,"b":476,"m":466,"t":"dn"}
]
},
"layer":[
{"data":{"name":"links"},"transform":[{"flatten":["x","y"]}],"mark":{"type":"line","interpolate":"basis","strokeWidth":2,"opacity":0.62},"encoding":{"x":{"field":"x","type":"quantitative","scale":{"domain":[0,778],"nice":false,"zero":false,"padding":0},"axis":null},"y":{"field":"y","type":"quantitative","scale":{"domain":[866,0],"nice":false,"zero":false,"padding":0},"axis":null},"detail":{"field":"k","type":"nominal"},"color":{"field":"c","type":"nominal","legend":null,"scale":{"domain":["H","N","F","S"],"range":["#f8984a","#5c82cf","#5e9562","#cf6e50"]}}}},
{"data":{"name":"nodes"},"mark":{"type":"bar","orient":"vertical","width":8.5,"stroke":"#707078","strokeWidth":0.8},"encoding":{"x":{"field":"x","type":"quantitative"},"y":{"field":"a","type":"quantitative"},"y2":{"field":"b"},"fill":{"field":"t","type":"nominal","legend":null,"scale":{"domain":["ns","up","dn","dp","z"],"range":["#c8dcf7","#0000ff","#ff0000","#ff9a9a","#777777"]}}}},
{"data":{"name":"nodes"},"mark":{"type":"text","align":"right","baseline":"middle","dx":-7,"font":"Liberation Sans","fontSize":6.5,"fill":"#3c3c3c"},"encoding":{"x":{"field":"x","type":"quantitative"},"y":{"field":"m","type":"quantitative"},"text":{"field":"n"}}},
{"data":{"values":[{"s":"— 5 %","x":1.5,"y":4.5},{"s":"— 5 %","x":1.5,"y":457.5}]},"mark":{"type":"text","align":"left","baseline":"middle","font":"Liberation Sans","fontSize":7,"fill":"#444444"},"encoding":{"x":{"field":"x","type":"quantitative"},"y":{"field":"y","type":"quantitative"},"text":{"field":"s"}}},
{"data":{"values":[{"s":"(A)","x":19.5,"y":52},{"s":"(B)","x":19.5,"y":506}]},"mark":{"type":"text","align":"left","baseline":"middle","font":"Liberation Sans","fontSize":23,"fill":"#111111"},"encoding":{"x":{"field":"x","type":"quantitative"},"y":{"field":"y","type":"quantitative"},"text":{"field":"s"}}},
{"data":{"values":[{"s":"N-glycans of EVs derived","x":22,"y":267},{"s":"from HuCCT1-ST6GAL1","x":13,"y":296},{"s":"vs","x":91,"y":324},{"s":"N-glycans of EVs derived","x":11,"y":352},{"s":"from HuCCT1-Vector","x":25,"y":381},{"s":"N- glycans of EVs derived","x":27,"y":711},{"s":"from HCCC-9810-ST6GAL1","x":24,"y":740},{"s":"vs","x":107,"y":768},{"s":"N- glycans of EVs derived","x":24,"y":797},{"s":"from HCCC-9810-Vector","x":33,"y":826}]},"mark":{"type":"text","align":"left","baseline":"middle","font":"Liberation Sans","fontSize":15.6,"fill":"#111111"},"encoding":{"x":{"field":"x","type":"quantitative"},"y":{"field":"y","type":"quantitative"},"text":{"field":"s"}}}
]}
